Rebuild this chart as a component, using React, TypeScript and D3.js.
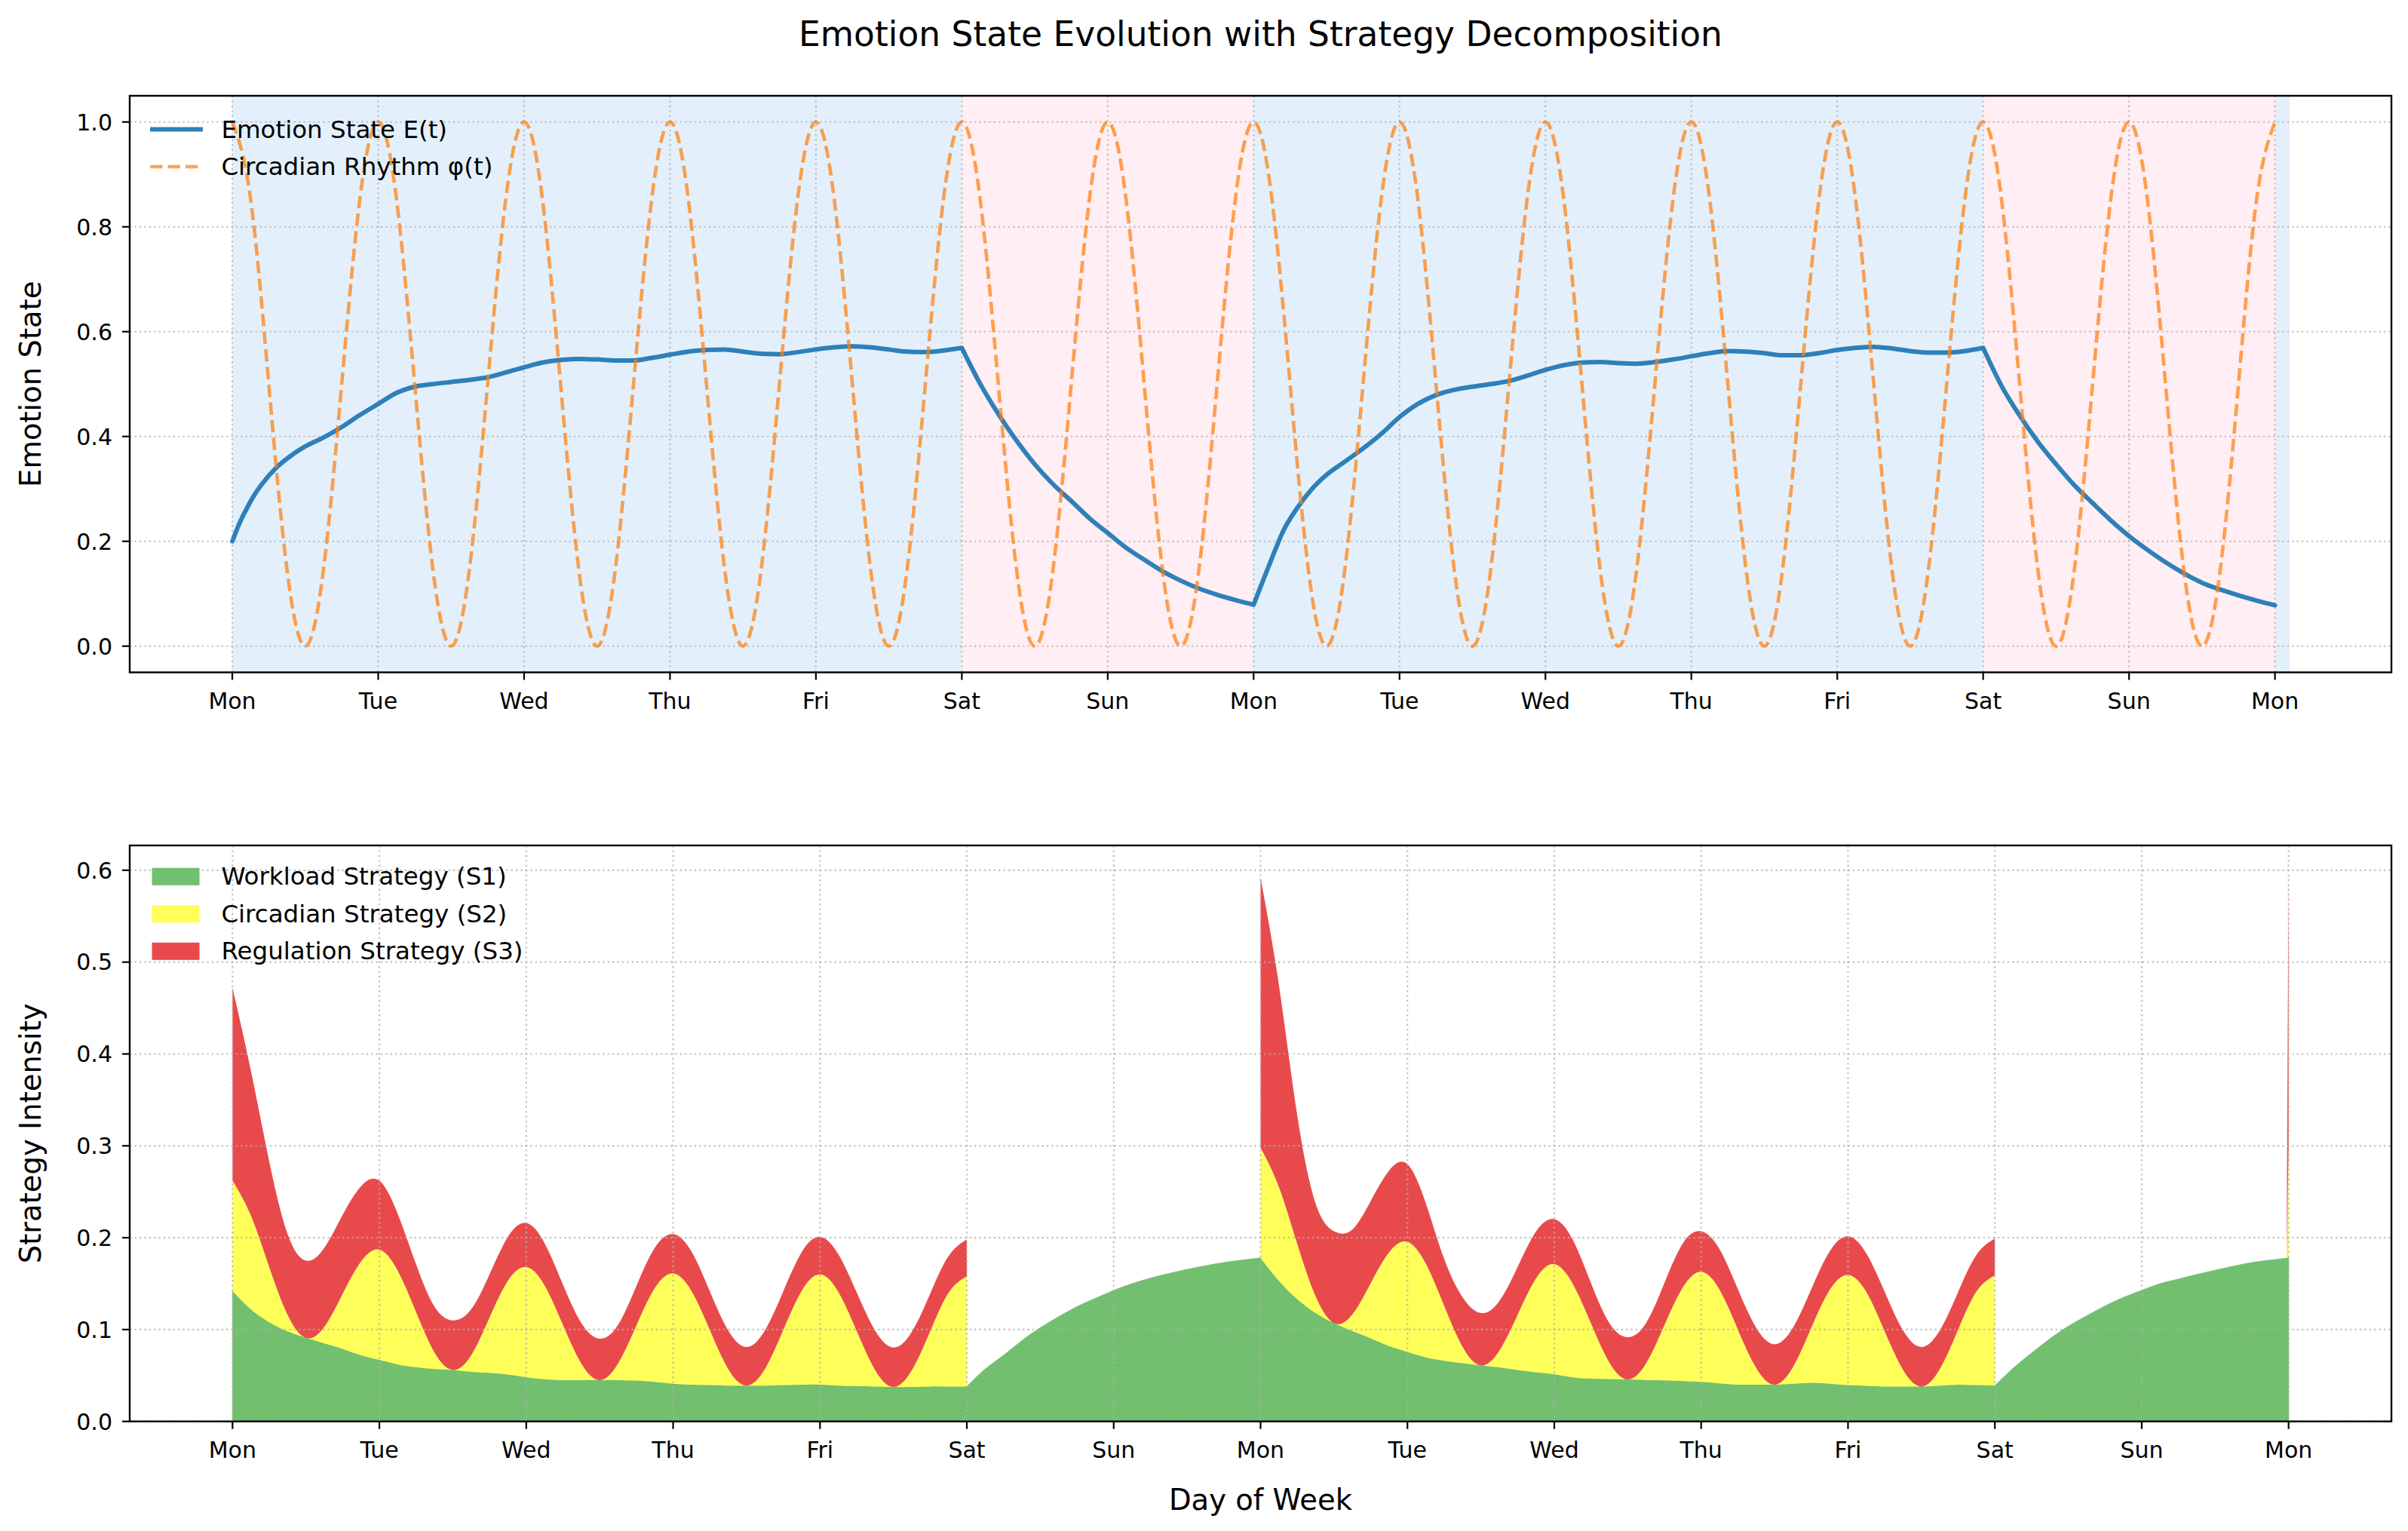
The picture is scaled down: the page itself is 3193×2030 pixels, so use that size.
import React from "react";
import * as d3 from "d3";

// ---------- data ----------
const dayLabels = ["Mon", "Tue", "Wed", "Thu", "Fri", "Sat", "Sun", "Mon", "Tue", "Wed", "Thu", "Fri", "Sat", "Sun", "Mon"];
const weekdaySpans = [[0, 5], [7, 12], [14, 14.1]];
const weekendSpans = [[5, 7], [12, 14]];
const emotionTicks = [0, 0.2, 0.4, 0.6, 0.8, 1.0];
const strategyTicks = [0, 0.1, 0.2, 0.3, 0.4, 0.5, 0.6];

// Emotion state E(t) (days); repeated t marks a kink
const emoT = [
  0, 0.05, 0.1, 0.15, 0.2, 0.3, 0.4, 0.5, 0.625, 0.75, 0.875, 1.0, 1.125, 1.25, 1.375, 1.5, 1.625, 1.75, 1.875, 2.0,
  2.125, 2.25, 2.375, 2.5, 2.625, 2.75, 2.875, 3.0, 3.125, 3.25, 3.375, 3.5, 3.625, 3.75, 3.875, 4.0, 4.125, 4.25,
  4.375, 4.5, 4.625, 4.75, 4.875, 5.0,
  5.0, 5.125, 5.25, 5.375, 5.5, 5.625, 5.75, 5.875, 6.0, 6.125, 6.25, 6.375, 6.5, 6.625, 6.75, 6.875, 7.0,
  7.0, 7.05, 7.1, 7.15, 7.2, 7.3, 7.4, 7.5, 7.625, 7.75, 7.875, 8.0, 8.125, 8.25, 8.375, 8.5, 8.625, 8.75, 8.875, 9.0,
  9.125, 9.25, 9.375, 9.5, 9.625, 9.75, 9.875, 10.0, 10.125, 10.25, 10.375, 10.5, 10.625, 10.75, 10.875, 11.0, 11.125,
  11.25, 11.375, 11.5, 11.625, 11.75, 11.875, 12.0,
  12.0, 12.125, 12.25, 12.375, 12.5, 12.625, 12.75, 12.875, 13.0, 13.125, 13.25, 13.375, 13.5, 13.625, 13.75, 13.875, 14.0,
];
const emoV = [
  0.2, 0.235, 0.263, 0.288, 0.308, 0.34, 0.363, 0.381, 0.398, 0.418, 0.441, 0.462, 0.483, 0.495, 0.5, 0.504, 0.508, 0.513, 0.522, 0.532,
  0.541, 0.546, 0.548, 0.547, 0.545, 0.545, 0.55, 0.556, 0.562, 0.565, 0.566, 0.562, 0.558, 0.557, 0.561, 0.566, 0.57, 0.572,
  0.57, 0.566, 0.562, 0.561, 0.564, 0.569,
  0.569, 0.501, 0.443, 0.392, 0.347, 0.309, 0.277, 0.244, 0.216, 0.188, 0.165, 0.143, 0.125, 0.11, 0.098, 0.088, 0.079,
  0.079, 0.115, 0.15, 0.185, 0.218, 0.264, 0.3, 0.327, 0.352, 0.377, 0.405, 0.437, 0.462, 0.479, 0.489, 0.495, 0.5, 0.506, 0.516, 0.527,
  0.536, 0.541, 0.542, 0.54, 0.539, 0.542, 0.547, 0.553, 0.559, 0.563, 0.562, 0.559, 0.555, 0.555, 0.559, 0.565, 0.569,
  0.571, 0.568, 0.563, 0.56, 0.56, 0.563, 0.569,
  0.569, 0.497, 0.44, 0.39, 0.347, 0.307, 0.273, 0.24, 0.21, 0.184, 0.16, 0.139, 0.121, 0.108, 0.097, 0.087, 0.078,
];

// Circadian rhythm phi(t), sampled every 1/8 day from 0 to 14
const circadian = [
  1, 0.854, 0.5, 0.146, 0, 0.146, 0.5, 0.854,
  1, 0.854, 0.5, 0.146, 0, 0.146, 0.5, 0.854,
  1, 0.854, 0.5, 0.146, 0, 0.146, 0.5, 0.854,
  1, 0.854, 0.5, 0.146, 0, 0.146, 0.5, 0.854,
  1, 0.854, 0.5, 0.146, 0, 0.146, 0.5, 0.854,
  1, 0.854, 0.5, 0.146, 0, 0.146, 0.5, 0.854,
  1, 0.854, 0.5, 0.146, 0, 0.146, 0.5, 0.854,
  1, 0.854, 0.5, 0.146, 0, 0.146, 0.5, 0.854,
  1, 0.854, 0.5, 0.146, 0, 0.146, 0.5, 0.854,
  1, 0.854, 0.5, 0.146, 0, 0.146, 0.5, 0.854,
  1, 0.854, 0.5, 0.146, 0, 0.146, 0.5, 0.854,
  1, 0.854, 0.5, 0.146, 0, 0.146, 0.5, 0.854,
  1, 0.854, 0.5, 0.146, 0, 0.146, 0.5, 0.854,
  1, 0.854, 0.5, 0.146, 0, 0.146, 0.5, 0.854,
  1,
];
const circadianStep = 0.125;

// Strategy decomposition (days); a t that does not increase starts a new segment
const stratT = [
  0, 0.125, 0.25, 0.375, 0.5, 0.625, 0.75, 0.875, 1.0, 1.125, 1.25, 1.375, 1.5, 1.625, 1.75, 1.875, 2.0, 2.125, 2.25, 2.375,
  2.5, 2.625, 2.75, 2.875, 3.0, 3.125, 3.25, 3.375, 3.5, 3.625, 3.75, 3.875, 4.0, 4.125, 4.25, 4.375, 4.5, 4.625, 4.75, 4.875, 5.0,
  5.0, 5.125, 5.25, 5.375, 5.5, 5.625, 5.75, 5.875, 6.0, 6.125, 6.25, 6.375, 6.5, 6.625, 6.75, 6.875, 7.0,
  7.0, 7.125, 7.25, 7.375, 7.5, 7.625, 7.75, 7.875, 8.0, 8.125, 8.25, 8.375, 8.5, 8.625, 8.75, 8.875, 9.0, 9.125, 9.25, 9.375,
  9.5, 9.625, 9.75, 9.875, 10.0, 10.125, 10.25, 10.375, 10.5, 10.625, 10.75, 10.875, 11.0, 11.125, 11.25, 11.375, 11.5, 11.625,
  11.75, 11.875, 12.0,
  12.0, 12.125, 12.25, 12.375, 12.5, 12.625, 12.75, 12.875, 13.0, 13.125, 13.25, 13.375, 13.5, 13.625, 13.75, 13.875, 14.0,
  13.986, 14.0,
];
const workload = [
  0.142, 0.122, 0.108, 0.098, 0.091, 0.085, 0.079, 0.072, 0.067, 0.062, 0.059, 0.057, 0.056, 0.054, 0.053, 0.051, 0.048, 0.046, 0.045, 0.045,
  0.045, 0.045, 0.0445, 0.043, 0.041, 0.04, 0.0395, 0.039, 0.039, 0.039, 0.0395, 0.04, 0.04, 0.039, 0.0385, 0.038, 0.0375, 0.0375, 0.038, 0.038, 0.038,
  0.038, 0.057, 0.072, 0.088, 0.102, 0.114, 0.125, 0.134, 0.1427, 0.15, 0.156, 0.161, 0.1655, 0.1695, 0.173, 0.1757, 0.178,
  0.178, 0.153, 0.133, 0.118, 0.107, 0.0985, 0.0905, 0.082, 0.0756, 0.0697, 0.066, 0.0633, 0.061, 0.0588, 0.056, 0.0536, 0.0512, 0.048, 0.0466, 0.0461,
  0.0457, 0.0452, 0.0448, 0.0438, 0.043, 0.0415, 0.04, 0.04, 0.04, 0.041, 0.042, 0.041, 0.0395, 0.0388, 0.038, 0.038, 0.038, 0.039,
  0.04, 0.0395, 0.039,
  0.039, 0.058, 0.0745, 0.09, 0.1037, 0.115, 0.1257, 0.135, 0.1427, 0.15, 0.155, 0.16, 0.1646, 0.169, 0.173, 0.1757, 0.178,
  0.178, 0.178,
];
const circadianStrategy = [
  0.12, 0.102, 0.06, 0.018, 0, 0.018, 0.06, 0.102, 0.12, 0.102, 0.06, 0.018, 0, 0.018, 0.06, 0.102, 0.12, 0.102, 0.06, 0.018,
  0, 0.018, 0.06, 0.102, 0.12, 0.102, 0.06, 0.018, 0, 0.018, 0.06, 0.102, 0.12, 0.102, 0.06, 0.018, 0, 0.018, 0.06, 0.102, 0.12,
  0, 0, 0, 0, 0, 0, 0, 0, 0, 0, 0, 0, 0, 0, 0, 0, 0,
  0.12, 0.102, 0.06, 0.018, 0, 0.018, 0.06, 0.102, 0.12, 0.102, 0.06, 0.018, 0, 0.018, 0.06, 0.102, 0.12, 0.102, 0.06, 0.018,
  0, 0.018, 0.06, 0.102, 0.12, 0.102, 0.06, 0.018, 0, 0.018, 0.06, 0.102, 0.12, 0.102, 0.06, 0.018, 0, 0.018,
  0.06, 0.102, 0.12,
  0, 0, 0, 0, 0, 0, 0, 0, 0, 0, 0, 0, 0, 0, 0, 0, 0,
  0, 0.12,
];
const regulation = [
  0.21, 0.158, 0.115, 0.088, 0.084, 0.086, 0.086, 0.082, 0.075, 0.062, 0.052, 0.05, 0.054, 0.05, 0.047, 0.048, 0.048, 0.046, 0.044, 0.044,
  0.045, 0.042, 0.043, 0.044, 0.043, 0.043, 0.042, 0.042, 0.042, 0.042, 0.042, 0.042, 0.041, 0.041, 0.042, 0.043, 0.043, 0.042, 0.041, 0.04, 0.04,
  0, 0, 0, 0, 0, 0, 0, 0, 0, 0, 0, 0, 0, 0, 0, 0, 0,
  0.294, 0.22, 0.14, 0.101, 0.1, 0.0925, 0.0895, 0.089, 0.0844, 0.066, 0.051, 0.054, 0.057, 0.054, 0.052, 0.051, 0.049, 0.048, 0.044, 0.043,
  0.046, 0.044, 0.046, 0.048, 0.044, 0.044, 0.044, 0.044, 0.044, 0.043, 0.042, 0.042, 0.042, 0.042, 0.043, 0.043, 0.043, 0.042,
  0.041, 0.04, 0.04,
  0, 0, 0, 0, 0, 0, 0, 0, 0, 0, 0, 0, 0, 0, 0, 0, 0,
  0, 0.3,
];

const strategyNames = ["Workload Strategy (S1)", "Circadian Strategy (S2)", "Regulation Strategy (S3)"];
const strategyColors = ["#72bf6f", "#ffff5a", "#e84a4b"];

// ---------- layout ----------
const W = 3193;
const H = 2030;
const L = 172;
const R = 3171;
const T1 = 127;
const B1 = 891.5;
const T2 = 1121;
const B2 = 1884.7;
const FONT = "DejaVu Sans";

function splitSegments(ts: number[]): [number, number][] {
  const segs: [number, number][] = [];
  let start = 0;
  for (let i = 1; i < ts.length; i++) {
    if (ts[i] <= ts[i - 1]) {
      segs.push([start, i - 1]);
      start = i;
    }
  }
  segs.push([start, ts.length - 1]);
  return segs;
}

export default function App() {
  const xTop = d3.scaleLinear().domain([-0.703, 14.798]).range([L, R]);
  const yTop = d3.scaleLinear().domain([-0.05, 1.05]).range([B1, T1]);
  const xBot = d3.scaleLinear().domain([-0.7, 14.7]).range([L, R]);
  const yBot = d3.scaleLinear().domain([0, 0.627]).range([B2, T2]);

  // emotion path (kinks kept by joining segments with L)
  const emoLine = d3.line<[number, number]>().curve(d3.curveMonotoneX);
  const emoSegs = splitSegments(emoT);
  let emoPath = "";
  emoSegs.forEach(([a, b], si) => {
    const pts: [number, number][] = [];
    for (let i = a; i <= b; i++) pts.push([xTop(emoT[i]), yTop(emoV[i])]);
    let p = emoLine(pts) || "";
    if (si > 0) p = "L" + p.slice(1);
    emoPath += p;
  });

  const circLine = d3.line<[number, number]>().curve(d3.curveNatural);
  const circPts: [number, number][] = circadian.map((v, i) => [xTop(i * circadianStep), yTop(v)]);
  const circPath = circLine(circPts) || "";

  // stacked strategies
  const rows = stratT.map((t, i) => ({ t, s1: workload[i], s2: circadianStrategy[i], s3: regulation[i] }));
  const stacked = d3.stack<any>().keys(["s1", "s2", "s3"])(rows);
  const stratSegs = splitSegments(stratT);
  const areaPaths: { d: string; color: string; key: string; stroke: boolean }[] = [];
  stacked.forEach((layer, li) => {
    stratSegs.forEach(([a, b], si) => {
      const pts = layer.slice(a, b + 1);
      const nonzero = pts.some((p) => p[1] - p[0] > 1e-9);
      if (!nonzero) return;
      const isSpike = b - a === 1;
      const area = d3
        .area<any>()
        .x((d: any) => xBot(d.data.t))
        .y0((d: any) => yBot(d[0]))
        .y1((d: any) => yBot(d[1]))
        .curve(isSpike ? d3.curveLinear : d3.curveNatural);
      areaPaths.push({ d: area(pts) || "", color: strategyColors[li], key: `a${li}-${si}`, stroke: li === 0 && !isSpike });
    });
  });

  const days = dayLabels.map((_, i) => i);
  const gridStyle = { stroke: "#b0b0b0", strokeWidth: 2.2, strokeDasharray: "2.4 4", opacity: 0.75 };

  return (
    <svg
      width={W}
      height={H}
      viewBox={`0 0 ${W} ${H}`}
      style={{ position: "absolute", left: 0, top: 0, background: "#ffffff" }}
      fontFamily={FONT}
    >
      <rect x={0} y={0} width={W} height={H} fill="#ffffff" />
      <text x={(L + R) / 2} y={61} fontSize={45.5} textAnchor="middle" fill="#000">
        Emotion State Evolution with Strategy Decomposition
      </text>

      {/* ---------- top panel ---------- */}
      <defs>
        <clipPath id="clipTop">
          <rect x={L} y={T1} width={R - L} height={B1 - T1} />
        </clipPath>
        <clipPath id="clipBot">
          <rect x={L} y={T2} width={R - L} height={B2 - T2} />
        </clipPath>
      </defs>
      <g clipPath="url(#clipTop)">
        {weekdaySpans.map(([a, b], i) => (
          <rect key={`wd${i}`} x={xTop(a)} y={T1} width={xTop(b) - xTop(a)} height={B1 - T1} fill="#e3f0fb" />
        ))}
        {weekendSpans.map(([a, b], i) => (
          <rect key={`we${i}`} x={xTop(a)} y={T1} width={xTop(b) - xTop(a)} height={B1 - T1} fill="#ffeef3" />
        ))}
        {emotionTicks.map((v) => (
          <line key={`gy${v}`} x1={L} x2={R} y1={yTop(v)} y2={yTop(v)} {...gridStyle} />
        ))}
        {days.map((d) => (
          <line key={`gx${d}`} x1={xTop(d)} x2={xTop(d)} y1={T1} y2={B1} {...gridStyle} />
        ))}
        <path d={emoPath} fill="none" stroke="#1f77b4" strokeOpacity={0.93} strokeWidth={6} strokeLinejoin="round" strokeLinecap="round" />
        <path d={circPath} fill="none" stroke="#ff7f0e" strokeOpacity={0.72} strokeWidth={4.6} strokeDasharray="16.4 7.1" />
      </g>
      <rect x={L} y={T1} width={R - L} height={B1 - T1} fill="none" stroke="#000" strokeWidth={2.4} />
      {emotionTicks.map((v) => (
        <g key={`ty${v}`}>
          <line x1={L - 10} x2={L} y1={yTop(v)} y2={yTop(v)} stroke="#000" strokeWidth={2.2} />
          <text x={149} y={yTop(v) + 10.8} fontSize={30} textAnchor="end" fill="#000">
            {v.toFixed(1)}
          </text>
        </g>
      ))}
      {days.map((d) => (
        <g key={`tx${d}`}>
          <line x1={xTop(d)} x2={xTop(d)} y1={B1} y2={B1 + 10} stroke="#000" strokeWidth={2.2} />
          <text x={xTop(d)} y={B1 + 48.5} fontSize={30} textAnchor="middle" fill="#000">
            {dayLabels[d]}
          </text>
        </g>
      ))}
      <text transform={`translate(54, ${(T1 + B1) / 2}) rotate(-90)`} fontSize={38.5} textAnchor="middle" fill="#000">
        Emotion State
      </text>
      {/* legend top */}
      <line x1={199} x2={269} y1={171.4} y2={171.4} stroke="#1f77b4" strokeOpacity={0.93} strokeWidth={6} />
      <text x={293.4} y={182.5} fontSize={32.5} fill="#000">Emotion State E(t)</text>
      <line x1={199} x2={269} y1={221} y2={221} stroke="#ff7f0e" strokeOpacity={0.72} strokeWidth={4.6} strokeDasharray="16.4 7.1" />
      <text x={293.4} y={232} fontSize={32.5} fill="#000">Circadian Rhythm φ(t)</text>

      {/* ---------- bottom panel ---------- */}
      <g clipPath="url(#clipBot)">
        {areaPaths.map((p) => (
          <path
            key={p.key}
            d={p.d}
            fill={p.color}
            stroke={p.stroke ? p.color : "none"}
            strokeWidth={p.stroke ? 0.8 : 0}
          />
        ))}
        {strategyTicks.map((v) => (
          <line key={`gy2${v}`} x1={L} x2={R} y1={yBot(v)} y2={yBot(v)} {...gridStyle} />
        ))}
        {days.map((d) => (
          <line key={`gx2${d}`} x1={xBot(d)} x2={xBot(d)} y1={T2} y2={B2} {...gridStyle} />
        ))}
      </g>
      <rect x={L} y={T2} width={R - L} height={B2 - T2} fill="none" stroke="#000" strokeWidth={2.4} />
      {strategyTicks.map((v) => (
        <g key={`ty2${v}`}>
          <line x1={L - 10} x2={L} y1={yBot(v)} y2={yBot(v)} stroke="#000" strokeWidth={2.2} />
          <text x={149} y={yBot(v) + 10.8} fontSize={30} textAnchor="end" fill="#000">
            {v.toFixed(1)}
          </text>
        </g>
      ))}
      {days.map((d) => (
        <g key={`tx2${d}`}>
          <line x1={xBot(d)} x2={xBot(d)} y1={B2} y2={B2 + 10} stroke="#000" strokeWidth={2.2} />
          <text x={xBot(d)} y={B2 + 48.5} fontSize={30} textAnchor="middle" fill="#000">
            {dayLabels[d]}
          </text>
        </g>
      ))}
      <text transform={`translate(54, ${(T2 + B2) / 2}) rotate(-90)`} fontSize={38.5} textAnchor="middle" fill="#000">
        Strategy Intensity
      </text>
      <text x={(L + R) / 2} y={2001.5} fontSize={38.5} textAnchor="middle" fill="#000">
        Day of Week
      </text>
      {/* legend bottom */}
      {strategyNames.map((name, i) => {
        const cy = 1162.3 + i * 49.5;
        return (
          <g key={`lg${i}`}>
            <rect x={201.5} y={cy - 11.5} width={63} height={23} fill={strategyColors[i]} />
            <text x={293.4} y={cy + 11} fontSize={32.5} fill="#000">
              {name}
            </text>
          </g>
        );
      })}
    </svg>
  );
}
